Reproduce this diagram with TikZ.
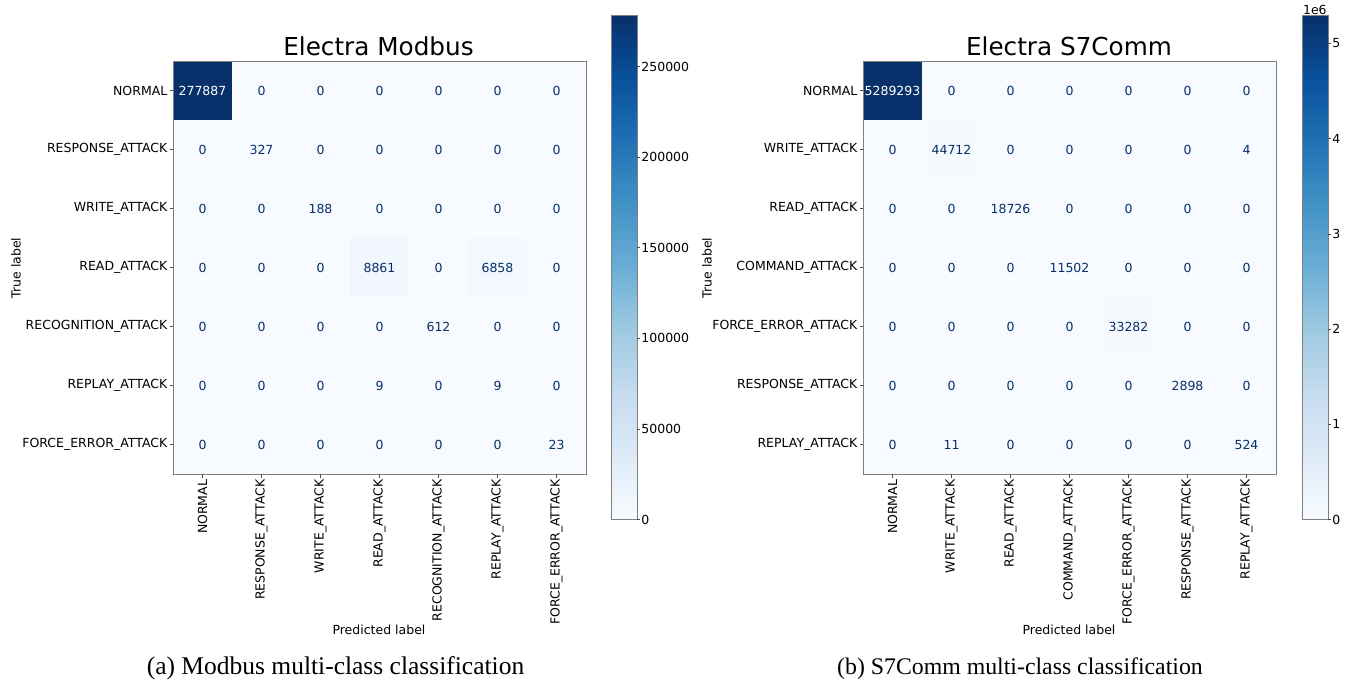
\documentclass[tikz,border=0pt]{standalone}
\usepackage{fontspec}
\setmainfont{DejaVu Sans}
\newfontfamily\capfont{Liberation Serif}
\definecolor{b0}{HTML}{F7FBFF}
\definecolor{b1}{HTML}{DEEBF7}
\definecolor{b2}{HTML}{C6DBEF}
\definecolor{b3}{HTML}{9ECAE1}
\definecolor{b4}{HTML}{6BAED6}
\definecolor{b5}{HTML}{4292C6}
\definecolor{b6}{HTML}{2171B5}
\definecolor{b7}{HTML}{08519C}
\definecolor{b8}{HTML}{08306B}
\definecolor{frame}{HTML}{808080}
\definecolor{cA}{RGB}{241,247,253}
\definecolor{cB}{RGB}{242,248,253}
\definecolor{cC}{RGB}{245,250,254}
\definecolor{cD}{RGB}{246,250,254}
\begin{document}
\begin{tikzpicture}[x=1pt,y=-1pt,
  lab/.style={font=\fontsize{12.5}{14}\selectfont, inner sep=0pt},
  rowlab/.style={lab, anchor=east},
  collab/.style={lab, anchor=east, rotate=90},
  cellnum/.style={lab, anchor=center},
  cbticklab/.style={lab, anchor=west},
  plottitle/.style={font=\fontsize{24.7}{28}\selectfont, inner sep=0pt, anchor=base},
  axlab/.style={lab, anchor=base},
  caption/.style={font=\capfont\fontsize{25.5}{28}\selectfont, inner sep=0pt, anchor=base},
  spine/.style={draw=frame, line width=0.9pt},
  tickmark/.style={draw=black!70, line width=0.7pt}
]
\useasboundingbox (0,0) rectangle (1353,682);
\fill[white] (0,0) rectangle (1353,682);

% ================= LEFT MATRIX =================
\def\ox{173}\def\oy{61}\def\cs{59}
\fill[b0] (\ox,\oy) rectangle ++(413,413);
\fill[b8] (\ox,\oy) rectangle ++(\cs,\cs);
\fill[cA] ({\ox+3*\cs},{\oy+3*\cs}) rectangle ++(\cs,\cs);
\fill[cB] ({\ox+5*\cs},{\oy+3*\cs}) rectangle ++(\cs,\cs);
\foreach \row [count=\r from 0] in {{277887,0,0,0,0,0,0},{0,327,0,0,0,0,0},{0,0,188,0,0,0,0},{0,0,0,8861,0,6858,0},{0,0,0,0,612,0,0},{0,0,0,9,0,9,0},{0,0,0,0,0,0,23}}{
  \foreach \v [count=\c from 0] in \row {
    \ifnum\numexpr\r+\c\relax=0 \def\tc{white}\else\def\tc{b8}\fi
    \node[cellnum, text=\tc] (L-\r-\c) at ({\ox+(\c+0.5)*\cs},{\oy+(\r+0.5)*\cs}) {\v};
  }
}
\node[spine, minimum size=413pt, inner sep=0pt, anchor=north west, fill=none] (Lframe) at (\ox,\oy) {};
\foreach \t [count=\i from 0] in {NORMAL,RESPONSE\_ATTACK,WRITE\_ATTACK,READ\_ATTACK,RECOGNITION\_ATTACK,REPLAY\_ATTACK,FORCE\_ERROR\_ATTACK}{
  \draw[tickmark] ({\ox-3.5},{\oy+(\i+0.5)*\cs}) -- (\ox,{\oy+(\i+0.5)*\cs});
  \node[rowlab] (Lrow-\i) at ({\ox-5.5},{\oy+(\i+0.5)*\cs}) {\t};
  \draw[tickmark] ({\ox+(\i+0.5)*\cs},{\oy+413}) -- ({\ox+(\i+0.5)*\cs},{\oy+416.5});
  \node[collab] (Lcol-\i) at ({\ox+(\i+0.5)*\cs},{\oy+418.5}) {\t};
}
\node[plottitle] (Ltitle) at (378.5,56) {Electra Modbus};
\node[axlab] (Lxlab) at (379,634) {Predicted label};
\node[lab, rotate=90] (Lylab) at (16,268) {True label};
\node[caption] (Lcap) at (335.5,674) {(a) Modbus multi-class classification};

% left colorbar
\def\cbx{611}\def\cbw{25.7}\def\cbb{519.5}\def\cbh{503.5}
\foreach \k/\ca/\cb in {0/b0/b1,1/b1/b2,2/b2/b3,3/b3/b4,4/b4/b5,5/b5/b6,6/b6/b7,7/b7/b8}{
  \shade[bottom color=\ca, top color=\cb] (\cbx,{\cbb-\k*\cbh/8+0.3}) rectangle ({\cbx+\cbw},{\cbb-(\k+1)*\cbh/8-0.3});
}
\fill[white] (\cbx-2,\cbb-\cbh-2) rectangle (\cbx+\cbw+2,\cbb-\cbh);
\node[spine, minimum width=25.7pt, minimum height=503.5pt, inner sep=0pt, anchor=south west] (Lcb) at (\cbx,\cbb) {};
\foreach \v/\y in {0/519.5,50000/428.9,100000/338.3,150000/247.7,200000/157.1,250000/66.5}{
  \draw[tickmark] ({\cbx+\cbw},\y) -- ({\cbx+\cbw+3.5},\y);
  \node[cbticklab] (Lcbt-\v) at ({\cbx+\cbw+4.5},\y) {\v};
}

% ================= RIGHT MATRIX =================
\def\ox{863}
\fill[b0] (\ox,\oy) rectangle ++(413,413);
\fill[b8] (\ox,\oy) rectangle ++(\cs,\cs);
\fill[cC] ({\ox+1*\cs},{\oy+1*\cs}) rectangle ++(\cs,\cs);
\fill[cD] ({\ox+4*\cs},{\oy+4*\cs}) rectangle ++(\cs,\cs);
\foreach \row [count=\r from 0] in {{5289293,0,0,0,0,0,0},{0,44712,0,0,0,0,4},{0,0,18726,0,0,0,0},{0,0,0,11502,0,0,0},{0,0,0,0,33282,0,0},{0,0,0,0,0,2898,0},{0,11,0,0,0,0,524}}{
  \foreach \v [count=\c from 0] in \row {
    \ifnum\numexpr\r+\c\relax=0 \def\tc{white}\else\def\tc{b8}\fi
    \node[cellnum, text=\tc] (R-\r-\c) at ({\ox+(\c+0.5)*\cs},{\oy+(\r+0.5)*\cs}) {\v};
  }
}
\node[spine, minimum size=413pt, inner sep=0pt, anchor=north west, fill=none] (Rframe) at (\ox,\oy) {};
\foreach \t [count=\i from 0] in {NORMAL,WRITE\_ATTACK,READ\_ATTACK,COMMAND\_ATTACK,FORCE\_ERROR\_ATTACK,RESPONSE\_ATTACK,REPLAY\_ATTACK}{
  \draw[tickmark] ({\ox-3.5},{\oy+(\i+0.5)*\cs}) -- (\ox,{\oy+(\i+0.5)*\cs});
  \node[rowlab] (Rrow-\i) at ({\ox-5.5},{\oy+(\i+0.5)*\cs}) {\t};
  \draw[tickmark] ({\ox+(\i+0.5)*\cs},{\oy+413}) -- ({\ox+(\i+0.5)*\cs},{\oy+416.5});
  \node[collab] (Rcol-\i) at ({\ox+(\i+0.5)*\cs},{\oy+418.5}) {\t};
}
\node[plottitle] (Rtitle) at (1069,56) {Electra S7Comm};
\node[axlab] (Rxlab) at (1069,634) {Predicted label};
\node[lab, rotate=90] (Rylab) at (707,268) {True label};
\node[caption, font=\capfont\fontsize{23.8}{28}\selectfont] (Rcap) at (1020,674) {(b) S7Comm multi-class classification};

% right colorbar
\def\cbx{1302}
\foreach \k/\ca/\cb in {0/b0/b1,1/b1/b2,2/b2/b3,3/b3/b4,4/b4/b5,5/b5/b6,6/b6/b7,7/b7/b8}{
  \shade[bottom color=\ca, top color=\cb] (\cbx,{\cbb-\k*\cbh/8+0.3}) rectangle ({\cbx+\cbw},{\cbb-(\k+1)*\cbh/8-0.3});
}
\fill[white] (\cbx-2,\cbb-\cbh-2) rectangle (\cbx+\cbw+2,\cbb-\cbh);
\node[spine, minimum width=25.7pt, minimum height=503.5pt, inner sep=0pt, anchor=south west] (Rcb) at (\cbx,\cbb) {};
\foreach \v/\y in {0/519.5,1/424.3,2/329.1,3/233.9,4/138.7,5/43.5}{
  \draw[tickmark] ({\cbx+\cbw},\y) -- ({\cbx+\cbw+3.5},\y);
  \node[cbticklab] (Rcbt-\v) at ({\cbx+\cbw+4.5},\y) {\v};
}
\node[lab, anchor=base] (Rexp) at ({\cbx+\cbw/2},14.5) {1e6};
\end{tikzpicture}
\end{document}
